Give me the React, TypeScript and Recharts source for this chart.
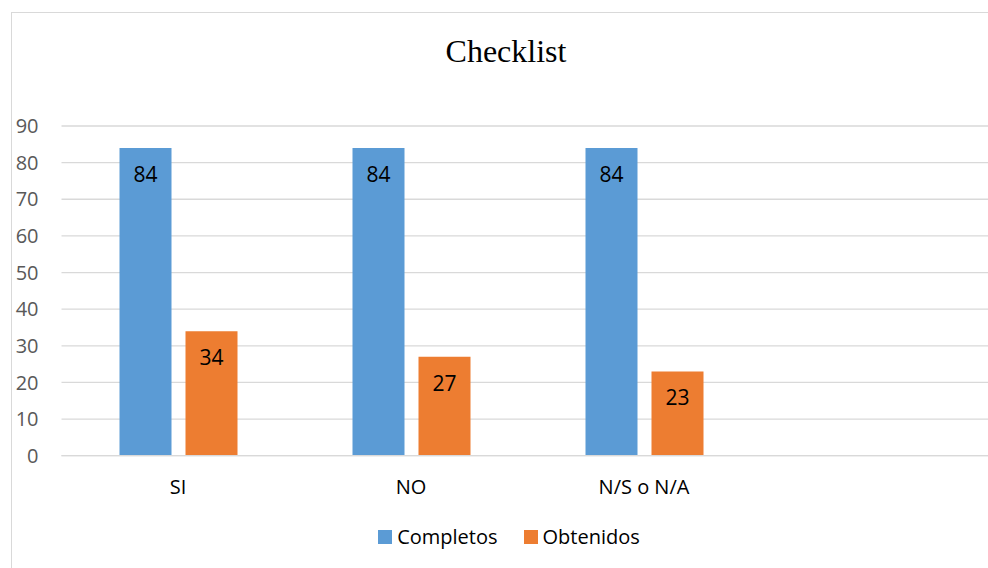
import { BarChart, Bar, XAxis, YAxis, CartesianGrid, Legend, LabelList } from 'recharts';

// Category order, the last slot is an empty placeholder category
const categories = ['SI', 'NO', 'N/S o N/A', ''];
const completos = [84, 84, 84, null];
const obtenidos = [34, 27, 23, null];
const yTicks = [0, 10, 20, 30, 40, 50, 60, 70, 80, 90];

const seriesNames = { completos: 'Completos', obtenidos: 'Obtenidos' };
const seriesColors = { completos: '#5B9BD5', obtenidos: '#ED7D31' };

const rows = categories.map((name, i) => ({
  name,
  completos: completos[i],
  obtenidos: obtenidos[i],
}));

const FONT = '"Open Sans", "Noto Sans", sans-serif';

function LegendContent() {
  const items = [
    { key: 'completos', label: seriesNames.completos, color: seriesColors.completos },
    { key: 'obtenidos', label: seriesNames.obtenidos, color: seriesColors.obtenidos },
  ];
  return (
    <div style={{ display: 'flex', justifyContent: 'center', alignItems: 'center', gap: 26, fontFamily: FONT, fontSize: 20, lineHeight: '30px', color: '#000' }}>
      {items.map((item) => (
        <div key={item.key} style={{ display: 'flex', alignItems: 'center', gap: 5 }}>
          <span style={{ display: 'inline-block', width: 14, height: 14, backgroundColor: item.color }} />
          <span>{item.label}</span>
        </div>
      ))}
    </div>
  );
}

export default function App() {
  return (
    <div style={{ position: 'fixed', left: 0, top: 0, width: 988, height: 568, overflow: 'hidden', background: '#fff' }}>
      {/* chart frame, its right and bottom edges fall outside the view */}
      <div
        style={{
          position: 'absolute',
          left: 11,
          top: 12,
          width: 1100,
          height: 700,
          border: '1px solid #d9d9d9',
          boxSizing: 'border-box',
        }}
      />
      <div
        style={{
          position: 'absolute',
          left: 0,
          top: 35,
          width: 1012,
          textAlign: 'center',
          fontFamily: '"Liberation Serif", "Times New Roman", serif',
          fontSize: 32,
          lineHeight: '32px',
          color: '#000',
        }}
      >
        Checklist
      </div>
      <div style={{ position: 'absolute', left: 0, top: 0 }}>
        <BarChart
          width={1010}
          height={580}
          data={rows}
          margin={{ top: 126, right: 16.5, left: 11.5, bottom: 84.3 }}
          barSize={52}
          barGap={14}
        >
          <CartesianGrid vertical={false} stroke="#d9d9d9" strokeWidth={1.3} />
          <XAxis
            dataKey="name"
            height={40}
            tickLine={false}
            tickSize={0}
            tickMargin={24}
            axisLine={{ stroke: '#d9d9d9', strokeWidth: 1.3 }}
            tick={{ fill: '#000', fontSize: 20, fontFamily: FONT }}
            interval={0}
          />
          <YAxis
            width={50}
            domain={[0, 90]}
            ticks={yTicks}
            axisLine={false}
            tickLine={false}
            tickSize={0}
            tickMargin={23}
            tick={{ fill: '#595959', fontSize: 20, fontFamily: FONT }}
          />
          <Legend
            verticalAlign="middle"
            layout="horizontal"
            align="center"
            wrapperStyle={{ top: 522, left: 0, width: 1018 }}
            content={<LegendContent />}
          />
          <Bar dataKey="completos" name={seriesNames.completos} fill={seriesColors.completos} isAnimationActive={false}>
            <LabelList dataKey="completos" position="insideTop" offset={19} fill="#000" fontSize={21} fontFamily={FONT} />
          </Bar>
          <Bar dataKey="obtenidos" name={seriesNames.obtenidos} fill={seriesColors.obtenidos} isAnimationActive={false}>
            <LabelList dataKey="obtenidos" position="insideTop" offset={19} fill="#000" fontSize={21} fontFamily={FONT} />
          </Bar>
        </BarChart>
      </div>
    </div>
  );
}
